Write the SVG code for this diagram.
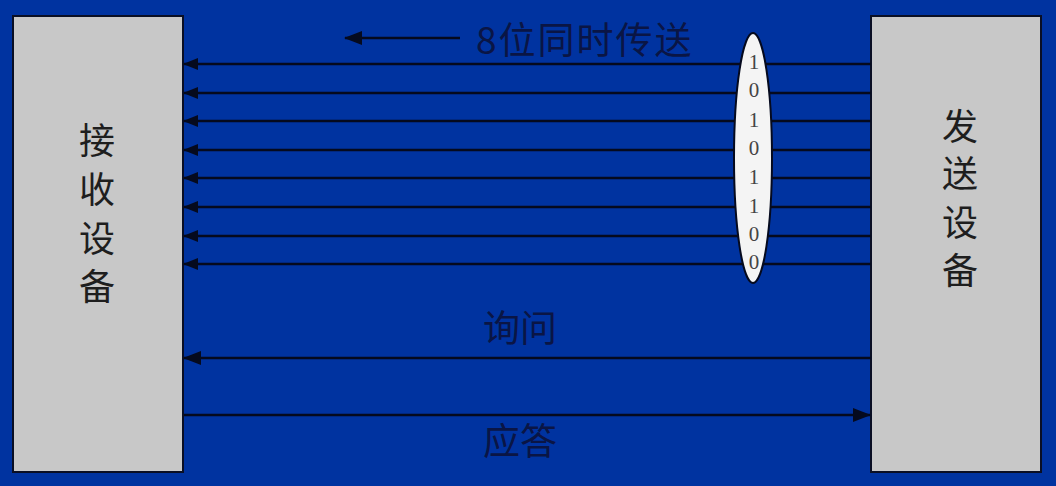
<svg xmlns="http://www.w3.org/2000/svg" width="1056" height="486" viewBox="0 0 1056 486">
<style>
.box{fill:#c8c8c8;stroke:#0a0f24;stroke-width:2}
.ln{stroke:#050a1e;stroke-width:2.5;fill:none}
.big{font-family:"Noto Sans CJK SC","Liberation Sans",sans-serif;font-size:36px;fill:#1e1e1e}
.lbl{font-family:"Noto Sans CJK SC","Liberation Serif",serif;font-size:37px;fill:#0a1545}
.bit{font-family:"Liberation Serif",serif;font-size:21px;fill:#444;text-anchor:middle}
</style>
<defs>
<marker id="ahb" markerWidth="18" markerHeight="14" refX="17" refY="7" orient="auto" markerUnits="userSpaceOnUse">
<path d="M0,0 L18,7 L0,14 Z" fill="#050a1e"/>
</marker>
<marker id="ahs" markerWidth="15" markerHeight="12" refX="14" refY="6" orient="auto" markerUnits="userSpaceOnUse">
<path d="M0,0 L15,6 L0,12 Z" fill="#050a1e"/>
</marker>
</defs>
<rect width="1056" height="486" fill="#0033a0"/>
<g id="receiver">
<rect class="box" x="13" y="16" width="170" height="456"/>
<text class="big" text-anchor="middle"><tspan x="97" y="154">接</tspan><tspan x="97" y="203">收</tspan><tspan x="97" y="252">设</tspan><tspan x="97" y="300">备</tspan></text>
</g>
<g id="sender">
<rect class="box" x="871" y="16" width="170" height="456"/>
<text class="big" text-anchor="middle"><tspan x="960" y="140">发</tspan><tspan x="960" y="187">送</tspan><tspan x="960" y="236">设</tspan><tspan x="960" y="284">备</tspan></text>
</g>
<g id="connectors">
<line class="ln" x1="871" y1="64" x2="184" y2="64" marker-end="url(#ahs)"/>
<line class="ln" x1="871" y1="93" x2="184" y2="93" marker-end="url(#ahs)"/>
<line class="ln" x1="871" y1="121" x2="184" y2="121" marker-end="url(#ahs)"/>
<line class="ln" x1="871" y1="150" x2="184" y2="150" marker-end="url(#ahs)"/>
<line class="ln" x1="871" y1="178" x2="184" y2="178" marker-end="url(#ahs)"/>
<line class="ln" x1="871" y1="207" x2="184" y2="207" marker-end="url(#ahs)"/>
<line class="ln" x1="871" y1="236" x2="184" y2="236" marker-end="url(#ahs)"/>
<line class="ln" x1="871" y1="264" x2="184" y2="264" marker-end="url(#ahs)"/>
<line class="ln" x1="871" y1="358" x2="184" y2="358" marker-end="url(#ahb)"/>
<line class="ln" x1="184" y1="415" x2="870" y2="415" marker-end="url(#ahb)"/>
<line class="ln" x1="460" y1="38" x2="345" y2="38" marker-end="url(#ahb)"/>
</g>
<g id="bits">
<ellipse cx="753" cy="158" rx="19" ry="125" fill="#f4f4f4" stroke="#050a1e" stroke-width="2"/>
<text class="bit" x="754" y="69">1</text>
<text class="bit" x="754" y="97">0</text>
<text class="bit" x="754" y="127">1</text>
<text class="bit" x="754" y="155">0</text>
<text class="bit" x="754" y="184">1</text>
<text class="bit" x="754" y="213">1</text>
<text class="bit" x="754" y="241">0</text>
<text class="bit" x="754" y="269">0</text>
</g>
<text class="lbl" x="476" y="54" letter-spacing="2">8位同时传送</text>
<text class="lbl" x="520" y="342" text-anchor="middle">询问</text>
<text class="lbl" x="520" y="455" text-anchor="middle">应答</text>
</svg>
